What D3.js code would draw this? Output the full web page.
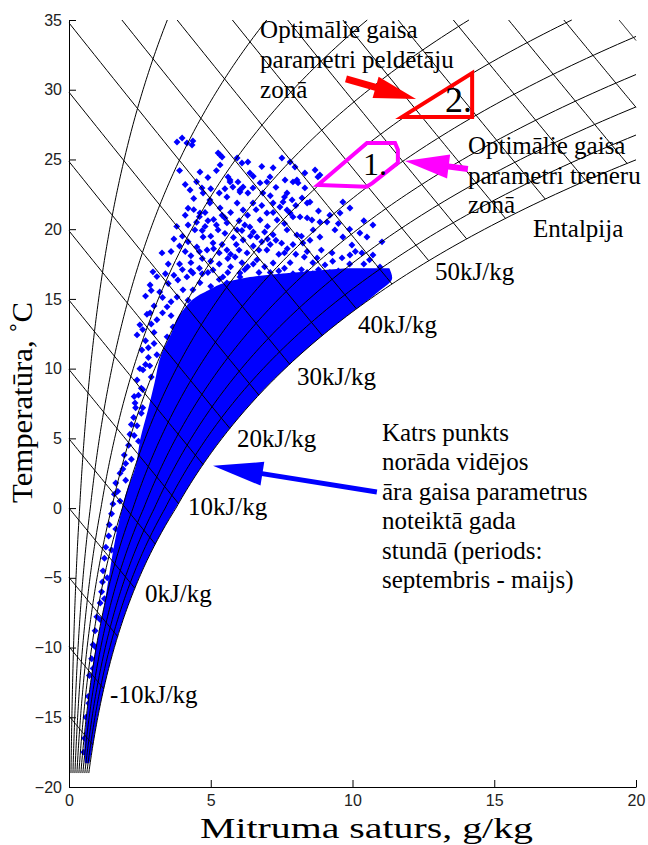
<!DOCTYPE html>
<html lang="lv">
<head>
    <meta charset="UTF-8">
    <title>Gaisa parametri</title>
    <style>
        body { margin: 0; background: #fff; }
        svg text { font-family: "Liberation Serif", "Times New Roman", serif; fill: #000; }
        .tick text { font-family: "Liberation Sans", Arial, sans-serif; font-size: 16px; fill: #222; }
        .domain, .tick line { stroke: #000; }
    </style>
</head>
<body>
<svg width="648" height="845"></svg>
<script src="https://d3js.org/d3.v7.min.js"></script>
<script>
// ---- chart values ----
var xTicks = [0, 5, 10, 15, 20];
var tTicks = [-20, -15, -10, -5, 0, 5, 10, 15, 20, 25, 30, 35];
var rhLevels = [0.1, 0.2, 0.3, 0.4, 0.5, 0.6, 0.7, 0.8, 0.9, 1.0];
var enthalpyLevels = [-15, -10, -5, 0, 5, 10, 15, 20, 25, 30, 35, 40, 45, 50, 55, 60, 65, 70, 75, 80, 85];

// dense part of the hourly cloud: temperature rows, left and right edge (g/kg)
var bandT     = [-18.3, -17, -15, -13, -11, -9, -7, -5, -3, -1, 1, 3, 5, 7, 9, 11, 12.5, 14, 15.5, 16.5, 17.2];
var bandLeft  = [0.56, 0.54, 0.62, 0.73, 0.86, 1.05, 1.24, 1.40, 1.56, 1.76, 2.00, 2.35, 2.52, 2.78, 3.02, 3.25, 3.60, 3.95, 4.80, 6.20, 9.80];
var bandRight = [0.72, 0.84, 1.01, 1.22, 1.46, 1.74, 2.08, 2.47, 2.93, 3.47, 4.05, 4.68, 5.39, 6.20, 7.11, 8.15, 9.01, 9.95, 10.90, 11.40, 11.30];

// single hours outside the dense part [g/kg, degC]
var hoursUpper = [
    [3.81,26.25],[3.99,26.54],[4.16,26.18],[4.34,26.04],[4.37,26.33],
    [5.26,25.47],[5.33,25.32],[5.40,25.18],[5.33,24.61],[5.93,25.11],[6.31,24.82],[6.10,24.75],
    [4.62,24.10],[4.27,22.81],[4.69,22.96],[4.73,22.60],[4.97,22.10],
    [5.61,23.75],[5.68,23.39],[5.78,23.03],[5.96,23.39],[6.03,22.67],[6.31,22.60],[6.49,22.96],[6.74,23.32],[6.98,23.39],[7.09,23.75],
    [7.51,25.11],[7.80,24.82],[7.62,23.53],[7.90,23.39],[8.08,23.32],[7.69,22.60],[7.87,22.10],[8.22,22.24],[8.40,21.88],
    [8.68,24.25],[8.78,23.75],[7.80,21.16],[8.15,20.88],[8.57,20.66],[8.61,19.95],[8.85,20.52],
    [3.28,18.30],[2.96,16.94],
    [6.14,23.03],[6.38,24.03],[7.97,24.46],[8.04,23.53],[8.32,24.03],[8.85,23.89],[8.32,22.96],[8.50,21.95],[7.55,21.95],[7.20,21.88],[6.84,22.60],
    [9.66,21.95],[9.91,21.52],[9.56,21.16],[8.40,20.81],[9.10,20.52],[9.38,19.95],[8.85,19.44],[9.66,19.44],[9.98,18.87],[10.26,19.73],
    [10.72,20.30],[10.51,19.44],[11.04,19.09],[10.33,18.30],[10.72,18.15],[9.28,18.30],[9.63,17.94],[9.91,18.15],[8.75,17.94],[9.03,17.44],[10.97,17.29],
    [8.25,19.01],[8.04,19.59],[7.69,19.95],[7.34,20.66],[6.98,21.16],[7.69,21.38],[7.44,21.59],[7.90,20.88],
    [4.44,19.95],[4.73,19.44],[4.51,18.73],[4.87,18.51],[5.08,19.01],[5.26,19.95],[5.57,20.45],[5.93,19.95],[6.14,19.23],[6.38,20.16],
    [6.63,19.44],[6.74,20.66],[5.57,18.51],[5.86,18.01],[6.28,18.30],[6.63,17.80],[6.98,18.51],[7.20,17.58],[5.08,17.08],[5.43,16.58],
    [6.03,16.86],[4.37,16.86],[4.97,21.88],[5.33,21.52],[5.93,21.88],[6.14,21.38],[6.49,21.88],[4.62,21.16],[5.57,22.31],[5.68,23.53],[6.03,22.81],
    [4.20,21.50],[4.50,20.50],[4.80,20.20],[5.10,20.70],[5.40,21.00],[5.70,21.20],[6.00,20.60],[6.30,21.00],[6.60,21.40],[7.00,20.20],
    [7.20,19.60],[7.50,19.00],[7.10,18.90],[6.80,19.10],[6.50,18.80],[5.90,18.90],[5.30,18.30],[5.00,17.70],[4.70,17.90],[4.30,17.60],
    [4.10,18.40],[4.00,19.50],[4.20,20.30],[5.70,17.30],[6.30,17.30],[6.70,16.90],[7.40,17.00],[7.80,17.60],[8.00,18.20],[8.40,18.40],
    [7.70,18.60],[7.40,18.20],[8.20,17.10],[8.60,16.80],[9.20,16.90],[9.50,17.00],[9.80,16.70],[10.20,16.90],[10.40,17.50],
    [4.50,23.40],[4.90,23.70],[5.20,24.20],[5.00,22.90],[5.30,22.60],[5.50,22.90],[6.50,23.80],[6.80,24.50],[7.20,24.40],[7.30,23.00],
    [7.10,22.40],[4.40,22.20],[4.10,23.20],[3.90,24.20],[4.10,21.00],[3.80,20.20],[3.70,19.30],[3.60,18.40],[3.50,17.50],
    [4.60,20.90],[4.90,20.60],[5.20,20.30],[5.50,19.70],[5.80,19.40],[6.10,19.90],[6.40,19.50],[6.70,18.50],[6.90,19.80],[7.30,19.20],
    [7.60,18.30],[7.90,18.90],[8.30,18.00],[8.60,17.60],[8.90,18.50],[9.30,17.70],[9.90,17.50],[10.10,18.40],[10.60,17.80],[4.00,17.10],
    [4.60,17.20],[4.90,16.90],[5.30,17.50],[5.60,17.90],[6.10,17.60],[6.50,17.50],[6.90,17.30],[7.10,16.90],[7.60,17.20],[7.90,16.80],
    [8.30,16.60],[8.80,17.10],[4.30,18.10],[4.60,18.40],[5.10,18.60],[5.40,18.90],[5.70,18.20],[6.00,18.50],[6.50,19.80],[7.00,19.30],
    [7.60,20.40],[8.20,19.50],[8.50,19.20],[3.90,18.80],[4.20,19.10],[4.70,19.90],[5.00,19.50],[5.50,20.80],[6.20,20.30],[6.80,21.70],
    [7.20,21.20],[7.60,22.30],[8.00,21.70],[8.80,21.30],[9.20,21.00],[9.50,20.40],[9.90,20.00],[10.40,20.60],[4.40,21.40],[4.80,21.20]
];
var hoursMid = [
    [2.86,16.00],[2.50,13.14],[2.40,12.42],[2.57,11.34],[2.40,9.19],[2.61,9.91],[2.33,7.54],
    [2.86,14.00],[3.10,13.50],[3.46,14.43],[3.81,15.14],[4.02,15.65],[3.84,16.36],[4.16,16.58],[4.37,15.65],[4.62,16.15],
    [3.46,12.28],[3.67,12.99],[4.02,13.49],[4.37,14.00],[4.87,14.71],[5.22,15.14],[5.57,16.15],[6.03,16.58],[6.38,15.86],[6.74,16.36],
    [7.20,15.65],[7.55,16.58],[8.15,16.15],[8.61,15.65],[9.10,16.15],[9.56,15.86],[10.02,16.15],[10.37,16.22],
    [5.00,15.90],[5.30,16.40],[5.90,15.40],[4.20,14.90],[4.60,13.60],[4.00,12.70],[3.60,13.80],[3.30,15.10],[3.10,16.60],[2.70,15.20],
    [2.75,13.90],[3.00,12.60],[2.80,11.50],[3.10,11.00],[2.70,10.30],[2.90,9.40],[2.55,8.60],[2.45,8.10],[2.60,7.20],
    [2.90,15.60],[3.20,15.50],[3.50,16.10],[3.40,16.80],[3.70,16.70],[3.00,14.50],[3.30,14.00],[3.60,14.80],[2.60,12.80],[2.90,13.20],
    [2.70,12.00],[3.00,11.80],[2.80,10.80],[2.50,10.00],[2.85,10.20],[3.90,17.50],[4.30,17.00],[4.70,16.80],[5.60,16.90],[6.20,17.10],
    [6.90,16.20],[7.60,15.90],[8.40,16.90],[9.00,16.60],[10.60,16.80],[10.90,16.50]
];
var hoursFringe = [
    [2.30,8.0],[2.35,7.2],[2.28,6.5],[2.40,5.9],[2.30,5.2],[2.10,4.5],[1.95,3.8],[2.00,3.2],[1.80,2.5],[1.65,1.8],
    [1.60,1.0],[1.55,0.3],[1.50,-0.4],[1.42,-1.2],[1.40,-2.0],[1.30,-2.8],[1.25,-3.6],[1.20,-4.5],[1.18,-5.3],[1.15,-6.0],
    [1.10,-6.8],[0.98,-7.8],[0.92,-8.8],[0.85,-9.8],[0.80,-10.8],[0.72,-12.0],[0.68,-13.5],[0.60,-15.0],[0.55,-16.5],[0.52,-17.5],
    [2.60,8.5],[2.55,6.8],[2.45,4.8],[2.20,3.5],[2.00,2.0],[1.80,0.5],[1.65,-1.5],[1.50,-3.0],[1.35,-5.0],[1.25,-6.5],
    [1.10,-8.0],[0.95,-10.0],[0.85,-11.5],[0.70,-14.0],[2.20,6.0],[2.15,5.3],[1.90,2.8],[1.72,1.2]
];

// marked zones [g/kg, degC]
var coachZone = [[8.78,23.17],[10.51,26.18],[11.50,26.18],[11.60,25.70],[11.60,24.75],[10.70,23.30],[10.50,23.05]];
var swimmerZone = [[11.75,28.05],[14.22,31.20],[14.22,28.05]];

// notes
var noteSwimmers = ["Optimālie gaisa", "parametri peldētāju", "zonā"];
var noteCoaches = ["Optimālie gaisa", "parametri treneru", "zonā"];
var noteHours = ["Katrs punkts", "norāda vidējos", "āra gaisa parametrus", "noteiktā gada", "stundā (periods:", "septembris - maijs)"];
var hLabelText = ["50kJ/kg", "40kJ/kg", "30kJ/kg", "20kJ/kg", "10kJ/kg", "0kJ/kg", "-10kJ/kg"];
var hLabelPos = [[12.91,16.36],[10.19,12.56],[8.04,8.84],[5.93,4.39],[4.20,-0.48],[2.68,-6.72],[1.45,-13.96]];

// ---- psychrometrics for the grid ----
var P = 101325;
function psat(t) {
    return t >= 0 ? 610.94 * Math.exp(17.625 * t / (t + 243.04))
                  : 611.15 * Math.exp(22.452 * t / (272.55 + t));
}
function xOf(t, phi) { var p = phi * psat(t); return 622 * p / (P - p); }
function tOfH(h, xg) { return (h - 2.501 * xg) / (1.006 + 0.00186 * xg); }

function rhCurve(phi) {
    var pts = [];
    for (var i = 0; i <= 216; i++) {
        var t = -19 + i * 0.25;
        var xv = xOf(t, phi);
        if (xv > 20) {
            var lo = t - 0.25, hi = t;
            for (var k = 0; k < 30; k++) { var m = (lo + hi) / 2; if (xOf(m, phi) > 20) hi = m; else lo = m; }
            pts.push([20, lo]);
            break;
        }
        pts.push([xv, t]);
    }
    return pts;
}
function hLine(h) {
    var x0 = Math.max(0, (h - 35 * 1.006) / (2.501 + 0.00186 * 35));
    var f = function(xg) { return xg - xOf(tOfH(h, xg), 1); };
    var x1 = 20;
    if (f(20) > 0) {
        var lo = x0, hi = 20;
        for (var k = 0; k < 40; k++) { var m = (lo + hi) / 2; if (f(m) > 0) hi = m; else lo = m; }
        x1 = lo;
    }
    return d3.range(41).map(function(i) { var xg = x0 + (x1 - x0) * i / 40; return [xg, tOfH(h, xg)]; });
}

// ---- drawing ----
var svg = d3.select("svg");
var x = d3.scaleLinear().domain([0, 20]).range([69, 636]);
var y = d3.scaleLinear().domain([-20, 35]).range([787, 20]);
var line = d3.line().x(function(d) { return x(d[0]); }).y(function(d) { return y(d[1]); });

// dense cloud
var band = bandT.map(function(t, i) { return {t: t, l: bandLeft[i], r: bandRight[i]}; });
svg.append("path")
    .datum(band)
    .attr("fill", "#0000ff")
    .attr("d", d3.area()
        .y(function(d) { return y(d.t); })
        .x0(function(d) { return x(d.l); })
        .x1(function(d) { return x(d.r); })
        .curve(d3.curveMonotoneY));

var diamond = d3.symbol().type(d3.symbolSquare).size(24);
svg.append("g").selectAll("path")
    .data(hoursUpper.concat(hoursMid, hoursFringe))
    .enter().append("path")
    .attr("d", diamond)
    .attr("fill", "#0000ff")
    .attr("transform", function(d) { return "translate(" + x(d[0]) + "," + y(d[1]) + ") rotate(45)"; });

// notes
function note(lines, pos, lh) {
    var t = svg.append("text").attr("font-size", 25);
    lines.forEach(function(s, i) {
        t.append("tspan").attr("x", x(pos[0])).attr("y", y(pos[1]) + i * lh).text(s);
    });
}
note(noteSwimmers, [6.74, 33.71], 30);
note(noteCoaches, [14.07, 25.39], 29.5);
note(noteHours, [11.04, 4.82], 29.5);
svg.append("text").attr("font-size", 25).attr("x", x(16.37)).attr("y", y(19.44)).text("Entalpija");
svg.selectAll(".hlab")
    .data(hLabelText)
    .enter().append("text")
    .attr("class", "hlab")
    .attr("font-size", 25)
    .attr("x", function(d, i) { return x(hLabelPos[i][0]); })
    .attr("y", function(d, i) { return y(hLabelPos[i][1]); })
    .text(function(d) { return d; });

// grid: relative humidity curves and enthalpy lines
var grid = svg.append("g").attr("fill", "none").attr("stroke", "#000").attr("stroke-width", 1);
rhLevels.forEach(function(phi) { grid.append("path").attr("d", line(rhCurve(phi))); });
enthalpyLevels.forEach(function(h) { grid.append("path").attr("d", line(hLine(h))); });

// zones
svg.append("path")
    .attr("d", line(coachZone) + "Z")
    .attr("fill", "none").attr("stroke", "#ff00ff").attr("stroke-width", 4).attr("stroke-linejoin", "miter");
svg.append("path")
    .attr("d", line(swimmerZone) + "Z")
    .attr("fill", "none").attr("stroke", "#ff0000").attr("stroke-width", 4).attr("stroke-linejoin", "miter");
svg.append("text").attr("font-size", 32).attr("x", x(10.37)).attr("y", y(23.89)).text("1.");
svg.append("text").attr("font-size", 36).attr("x", x(13.26)).attr("y", y(28.4)).text("2.");

// arrows
function arrow(from, to, color, shaft, headLen, headHalf) {
    var x1 = x(from[0]), y1 = y(from[1]), x2 = x(to[0]), y2 = y(to[1]);
    var dx = x2 - x1, dy = y2 - y1, len = Math.sqrt(dx * dx + dy * dy);
    var ux = dx / len, uy = dy / len;
    var bx = x2 - ux * headLen, by = y2 - uy * headLen;
    svg.append("line").attr("x1", x1).attr("y1", y1).attr("x2", bx + ux * 2).attr("y2", by + uy * 2)
        .attr("stroke", color).attr("stroke-width", shaft);
    svg.append("path")
        .attr("d", "M" + x2 + "," + y2 + "L" + (bx - uy * headHalf) + "," + (by + ux * headHalf) +
                   "L" + (bx + uy * headHalf) + "," + (by - ux * headHalf) + "Z")
        .attr("fill", color);
}
arrow([9.77, 30.77], [12.24, 29.34], "#ff0000", 7, 42, 11);
arrow([14.07, 24.32], [11.85, 24.89], "#ff00ff", 6, 44, 12);
arrow([10.86, 1.16], [5.08, 3.03], "#0000ff", 5, 50, 12);

// axes
svg.append("g")
    .attr("transform", "translate(0,787)")
    .call(d3.axisBottom(x).tickValues(xTicks).tickSizeInner(-7).tickSizeOuter(0).tickPadding(8));
svg.append("g")
    .attr("transform", "translate(69,0)")
    .call(d3.axisLeft(y).tickValues(tTicks).tickSizeInner(-7).tickSizeOuter(0).tickPadding(7));

svg.append("text")
    .attr("x", 200).attr("y", 838)
    .attr("font-size", 30)
    .attr("textLength", 333).attr("lengthAdjust", "spacingAndGlyphs")
    .text("Mitruma saturs, g/kg");
svg.append("text")
    .attr("transform", "translate(32,503) rotate(-90)")
    .attr("font-size", 29)
    .attr("textLength", 201).attr("lengthAdjust", "spacingAndGlyphs")
    .text("Temperatūra, ˚C");
</script>
</body>
</html>
